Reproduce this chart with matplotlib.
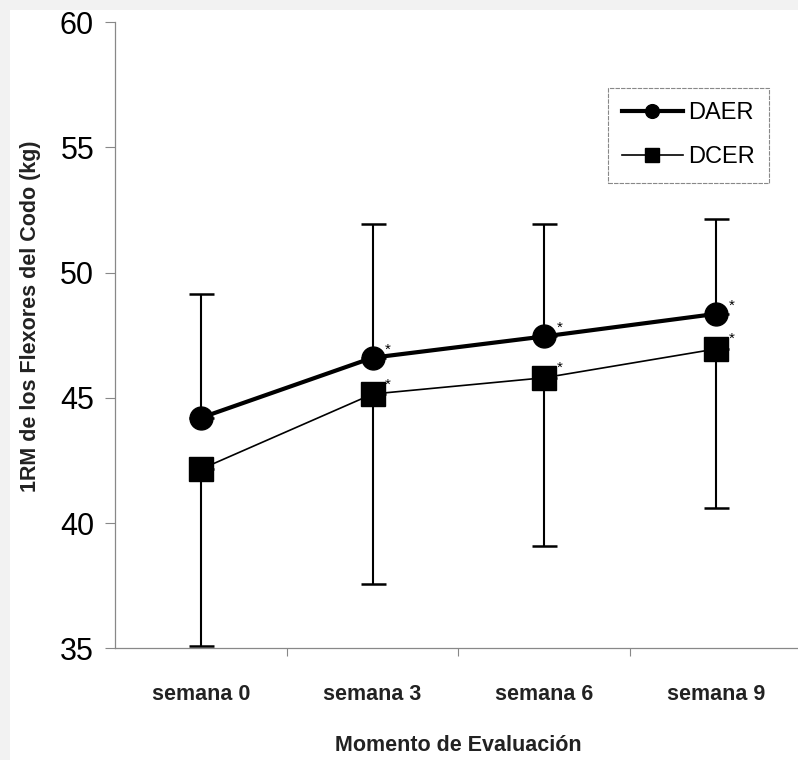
import matplotlib
matplotlib.use('Agg')
import matplotlib.pyplot as plt
from matplotlib.patches import Rectangle

# values
semanas = ['semana 0', 'semana 3', 'semana 6', 'semana 9']
daer = [44.2, 46.6, 47.45, 48.35]
daer_upper = [49.15, 51.95, 51.95, 52.15]
dcer = [42.15, 45.15, 45.8, 46.95]
dcer_lower = [35.1, 37.55, 39.1, 40.6]
significativo = [False, True, True, True]

plt.rcParams['font.family'] = ['Liberation Sans', 'DejaVu Sans']

fig = plt.figure(figsize=(7.98, 7.6), dpi=100)
fig.patch.set_facecolor('#f2f2f2')
fig.add_artist(Rectangle((10 / 798, 0), 1, 750 / 760, transform=fig.transFigure,
                         facecolor='white', edgecolor='none', zorder=-10))

ax = fig.add_axes([0.144, 0.147, 0.861, 0.824])
ax.patch.set_alpha(0)

x = list(range(len(semanas)))

# error bars: DAER upward, DCER downward
ax.errorbar(x, daer, yerr=[[0] * 4, [u - v for u, v in zip(daer_upper, daer)]],
            fmt='none', ecolor='black', elinewidth=1.5, capsize=9, capthick=1.8, zorder=2)
ax.errorbar(x, dcer, yerr=[[v - l for v, l in zip(dcer, dcer_lower)], [0] * 4],
            fmt='none', ecolor='black', elinewidth=1.5, capsize=9, capthick=1.8, zorder=2)

ax.plot(x, daer, color='black', lw=3.0, marker='o', ms=16.5, label='DAER', zorder=4)
ax.plot(x, dcer, color='black', lw=1.2, marker='s', ms=17, label='DCER', zorder=3)

for i, sig in enumerate(significativo):
    if sig:
        ax.annotate('*', (x[i], daer[i]), xytext=(11, 6), textcoords='offset points',
                    fontsize=11, ha='center', va='center')
        ax.annotate('*', (x[i], dcer[i]), xytext=(11, 7), textcoords='offset points',
                    fontsize=11, ha='center', va='center')

ax.set_xlim(-0.5, 3.5)
ax.set_ylim(35, 60)
ax.set_yticks([35, 40, 45, 50, 55, 60])
ax.tick_params(axis='y', labelsize=22, length=7, width=0.8, color='#888888', pad=8)

ax.set_xticks([0.5, 1.5, 2.5])
ax.set_xticklabels([])
ax.set_xticks(x, minor=True)
ax.set_xticklabels(semanas, minor=True, fontsize=15.5, fontweight='bold', color='#222222')
ax.tick_params(axis='x', which='major', length=6, width=0.8, color='#888888', direction='out')
ax.tick_params(axis='x', which='minor', length=0, pad=26)

for s in ['top', 'right']:
    ax.spines[s].set_visible(False)
for s in ['left', 'bottom']:
    ax.spines[s].set_color('#888888')
    ax.spines[s].set_linewidth(0.9)
    ax.spines[s].set_linestyle((0, (6, 1)))

ax.set_ylabel('1RM de los Flexores del Codo (kg)', fontsize=15.5, fontweight='bold',
              color='#222222')
ax.yaxis.set_label_coords(-0.108, 0.53)
ax.set_xlabel('Momento de Evaluación', fontsize=15.5, fontweight='bold', color='#222222')
ax.xaxis.set_label_coords(0.5, -0.139)

leg = ax.legend(loc='upper left', bbox_to_anchor=(0.717, 0.895), fontsize=17,
                markerscale=0.6, handlelength=2.6, handletextpad=0.2,
                labelspacing=0.95, borderpad=0.6, borderaxespad=0,
                fancybox=False, framealpha=1)
leg.get_frame().set_edgecolor('#888888')
leg.get_frame().set_linewidth(0.8)
leg.get_frame().set_linestyle((0, (4, 1)))

fig.savefig('out.png', dpi=100, facecolor=fig.get_facecolor())
